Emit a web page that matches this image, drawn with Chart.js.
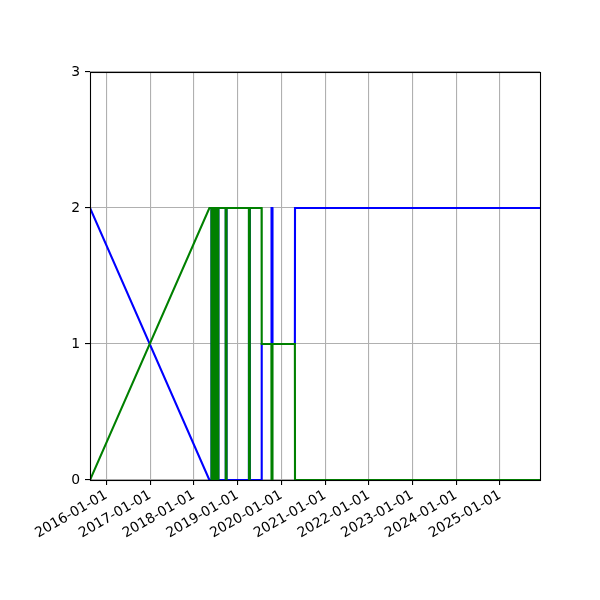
<!DOCTYPE html>
<html>
<head>
<meta charset="utf-8">
<script src="https://cdn.jsdelivr.net/npm/chart.js@4.4.1/dist/chart.umd.min.js"></script>
<style>
  html, body { margin: 0; padding: 0; background: #ffffff; }
  #wrap { width: 600px; height: 600px; }
</style>
</head>
<body>
<div id="wrap"><canvas id="c" width="600" height="600"></canvas></div>
<script>
// ---- data ----
const dates = [
  "2015-08-18",
  "2018-05-11",
  "2018-05-28", "2018-05-29",
  "2018-06-06", "2018-06-07",
  "2018-06-14", "2018-06-15",
  "2018-06-22", "2018-06-23",
  "2018-06-30", "2018-07-01",
  "2018-07-08", "2018-07-09",
  "2018-07-16", "2018-07-17",
  "2018-07-24", "2018-07-25",
  "2018-09-24", "2018-09-25",
  "2018-09-30", "2018-10-01",
  "2019-04-06", "2019-04-07",
  "2019-04-13", "2019-04-14",
  "2019-07-21", "2019-07-22",
  "2019-10-11", "2019-10-12",
  "2019-10-19", "2019-10-20",
  "2020-04-24", "2020-04-25",
  "2025-12-01"
];
const blueValues = [
  2,
  0,
  0, 2,
  2, 0,
  0, 2,
  2, 0,
  0, 2,
  2, 0,
  0, 2,
  2, 0,
  0, 2,
  2, 0,
  0, 2,
  2, 0,
  0, 1,
  1, 2,
  2, 1,
  1, 2,
  2
];
const greenValues = [
  0,
  2,
  2, 0,
  0, 2,
  2, 0,
  0, 2,
  2, 0,
  0, 2,
  2, 0,
  0, 2,
  2, 0,
  0, 2,
  2, 0,
  0, 2,
  2, 1,
  1, 0,
  0, 1,
  1, 0,
  0
];
const xTickDates = ["2016-01-01","2017-01-01","2018-01-01","2019-01-01","2020-01-01",
                    "2021-01-01","2022-01-01","2023-01-01","2024-01-01","2025-01-01"];
const xTickLabels = ["2016-01-01","2017-01-01","2018-01-01","2019-01-01","2020-01-01",
                     "2021-01-01","2022-01-01","2023-01-01","2024-01-01","2025-01-01"];
const yTicks = [0, 1, 2, 3];
const xMin = "2015-08-18";
const xMax = "2025-12-01";

// ---- build ----
const toMs = s => Date.parse(s + "T00:00:00Z");
const bluePts = dates.map((d, i) => ({ x: toMs(d), y: blueValues[i] }));
const greenPts = dates.map((d, i) => ({ x: toMs(d), y: greenValues[i] }));

const FONT = { family: "'DejaVu Sans', sans-serif", size: 13.9 };

const framePlugin = {
  id: 'frame',
  afterDatasetsDraw(chart) {
    const a = chart.chartArea, ctx = chart.ctx;
    const l = Math.round(a.left) + 0.5, t = Math.round(a.top) + 0.5;
    const r = Math.round(a.right) + 0.5, b = Math.round(a.bottom) + 0.5;
    ctx.save();
    ctx.strokeStyle = '#000000';
    ctx.lineWidth = 1.1;
    ctx.strokeRect(l, t, r - l, b - t);
    ctx.restore();
  }
};

new Chart(document.getElementById('c'), {
  type: 'line',
  data: {
    datasets: [
      { data: bluePts, borderColor: '#0000ff', borderWidth: 2.1, pointRadius: 0,
        tension: 0, fill: false, order: 2 },
      { data: greenPts, borderColor: '#008000', borderWidth: 2.1, pointRadius: 0,
        tension: 0, fill: false, order: 1 }
    ]
  },
  options: {
    responsive: false,
    animation: false,
    devicePixelRatio: 1,
    parsing: false,
    layout: { padding: { top: 72, right: 60, left: 0, bottom: 0 } },
    plugins: { legend: { display: false }, tooltip: { enabled: false } },
    scales: {
      x: {
        type: 'linear',
        min: toMs(xMin),
        max: toMs(xMax),
        afterBuildTicks: s => { s.ticks = xTickDates.map(d => ({ value: toMs(d) })); },
        afterFit: s => { s.height = 120; },
        ticks: {
          autoSkip: false, minRotation: 30, maxRotation: 30, color: '#000000', font: FONT,
          padding: 2,
          callback: (v, i) => xTickLabels[i]
        },
        grid: { color: '#b0b0b0', lineWidth: 1.1, tickColor: '#000000', tickLength: 5, drawOnChartArea: true },
        border: { display: false }
      },
      y: {
        type: 'linear',
        min: 0,
        max: 3,
        afterBuildTicks: s => { s.ticks = yTicks.map(v => ({ value: v })); },
        afterFit: s => { s.width = 90; },
        ticks: { color: '#000000', font: FONT, padding: 5, callback: v => String(v) },
        grid: { color: '#b0b0b0', lineWidth: 1.1, tickColor: '#000000', tickLength: 5 },
        border: { display: false }
      }
    }
  },
  plugins: [framePlugin]
});
</script>
</body>
</html>
